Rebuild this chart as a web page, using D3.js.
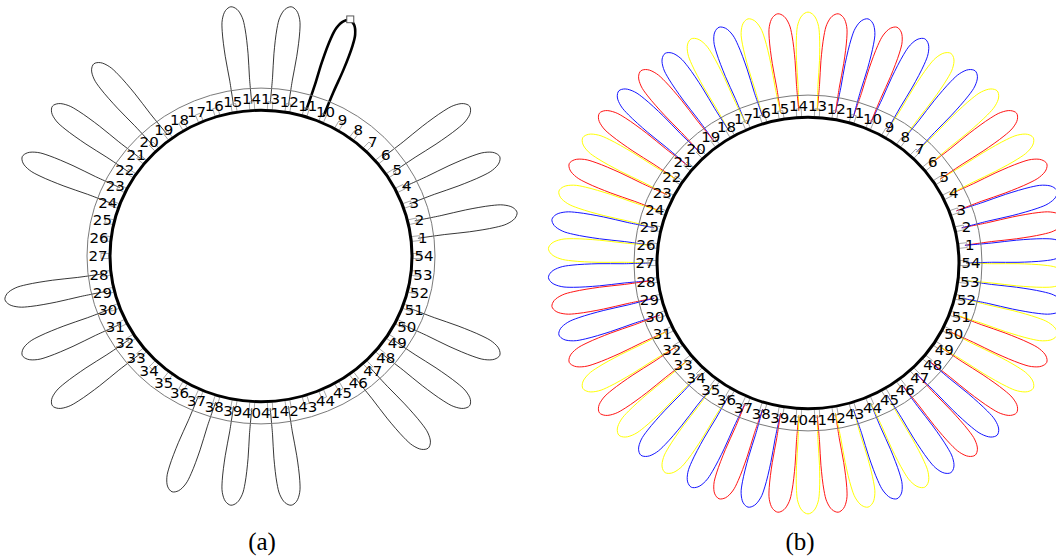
<!DOCTYPE html>
<html lang="en">
<head>
<meta charset="utf-8">
<title>Stator winding layout</title>
<script src="https://d3js.org/d3.v7.min.js"></script>
<style>
  body { margin: 0; background: #fff; }
  .slotLabel { font-family: "DejaVu Sans", sans-serif; font-size: 15px; fill: #000; }
  .caption { font-family: "Liberation Serif", "Times New Roman", serif; font-size: 25px; fill: #000; }
</style>
</head>
<body>
<div id="chart"></div>
<script>
// slot numbers around the stator
const slotLabels = ["1","2","3","4","5","6","7","8","9","10","11","12","13","14","15","16","17","18",
  "19","20","21","22","23","24","25","26","27","28","29","30","31","32","33","34","35","36",
  "37","38","39","40","41","42","43","44","45","46","47","48","49","50","51","52","53","54"];

// coil k sits around the tooth between slot k and slot k+1
const coilPhase = ["A","C","A","B","A","B","C","B","C",
                   "A","C","A","B","A","B","C","B","C",
                   "A","C","A","B","A","B","C","B","C",
                   "A","C","A","B","A","B","C","B","C",
                   "A","C","A","B","A","B","C","B","C",
                   "A","C","A","B","A","B","C","B","C"];

const phaseNames = ["A", "B", "C"];
const phaseColors = ["#ff1010", "#ffff00", "#1010ff"];

// coils of phase A shown alone in (a), with the highlighted one
const singlePhaseCoils = [1, 3, 5, 10, 12, 14, 19, 21, 23, 28, 30, 32, 37, 39, 41, 46, 48, 50];
const highlightedCoil = 10;

const captions = ["(a)", "(b)"];

const width = 1056, height = 560;
const rInner = 151, rSlot0 = 152, rSlot1 = 160, rLabel = 163, rOuter = 174;
const rLeg = 158, rTip = 260;
const squash = 0.965;

const svg = d3.select("#chart")
  .append("svg")
  .attr("width", width)
  .attr("height", height);

svg.append("rect").attr("width", width).attr("height", height).attr("fill", "#fff");

const n = slotLabels.length;
// d3 radial angle, clockwise from 12 o'clock
const angle = d3.scaleLinear().domain([13.5, 13.5 + n]).range([0, -2 * Math.PI]);
const phaseColor = d3.scaleOrdinal().domain(phaseNames).range(phaseColors);

const petalLine = d3.lineRadial()
  .angle(d => d[0])
  .radius(d => d[1])
  .curve(d3.curveCatmullRom.alpha(0.5));

// half widths of a coil loop along its length, rounded cap at the end
const profile = [[185, 10], [210, 11.5], [236, 11.5], [248, 10], [256.8, 5.75]];

function petalPoints(k) {
  const a0 = angle(k), a1 = angle(k + 1), mid = (a0 + a1) / 2;
  const pts = [[a0, rLeg]];
  profile.forEach(([r, w]) => pts.push([mid + w / r, r]));
  pts.push([mid, rTip]);
  profile.slice().reverse().forEach(([r, w]) => pts.push([mid - w / r, r]));
  pts.push([a1, rLeg]);
  return pts;
}

function drawStator(g) {
  g.append("circle")
    .attr("r", rOuter)
    .attr("fill", "none")
    .attr("stroke", "#777")
    .attr("stroke-width", 1);

  g.append("g")
    .selectAll("rect")
    .data(slotLabels)
    .join("rect")
    .attr("x", -2.5)
    .attr("y", -rSlot1)
    .attr("width", 5)
    .attr("height", rSlot1 - rSlot0)
    .attr("fill", "none")
    .attr("stroke", "#999")
    .attr("stroke-width", 0.8)
    .attr("transform", (d, i) => `rotate(${angle(i + 1) * 180 / Math.PI})`);

  g.append("circle")
    .attr("r", rInner)
    .attr("fill", "none")
    .attr("stroke", "#000")
    .attr("stroke-width", 3);

  g.append("g")
    .selectAll("text")
    .data(slotLabels)
    .join("text")
    .attr("class", "slotLabel")
    .attr("x", (d, i) => rLabel * Math.sin(angle(i + 1)))
    .attr("y", (d, i) => -rLabel * Math.cos(angle(i + 1)))
    .attr("text-anchor", "middle")
    .attr("dominant-baseline", "central")
    .text(d => d);
}

// (a) one phase
const ga = svg.append("g").attr("transform", `translate(261,256) scale(1,${squash})`);
ga.append("g")
  .selectAll("path")
  .data(singlePhaseCoils)
  .join("path")
  .attr("d", k => petalLine(petalPoints(k)))
  .attr("fill", "none")
  .attr("stroke", "#000")
  .attr("stroke-width", k => k === highlightedCoil ? 2.6 : 0.8);

const tipA = angle(highlightedCoil + 0.5);
ga.append("rect")
  .attr("x", (rTip + 1) * Math.sin(tipA) - 3.5)
  .attr("y", -(rTip + 1) * Math.cos(tipA) - 3.5)
  .attr("width", 7)
  .attr("height", 7)
  .attr("fill", "#fff")
  .attr("stroke", "#555")
  .attr("stroke-width", 1);
drawStator(ga);

// (b) all three phases
const gb = svg.append("g").attr("transform", `translate(808,263) scale(1,${squash})`);
gb.append("g")
  .selectAll("path")
  .data(coilPhase)
  .join("path")
  .attr("d", (p, i) => petalLine(petalPoints(i + 1)))
  .attr("fill", "none")
  .attr("stroke", p => phaseColor(p))
  .attr("stroke-width", 1);
drawStator(gb);

svg.selectAll("text.caption")
  .data(captions)
  .join("text")
  .attr("class", "caption")
  .attr("x", (d, i) => i === 0 ? 262 : 800)
  .attr("y", 550)
  .attr("text-anchor", "middle")
  .text(d => d);
</script>
</body>
</html>
